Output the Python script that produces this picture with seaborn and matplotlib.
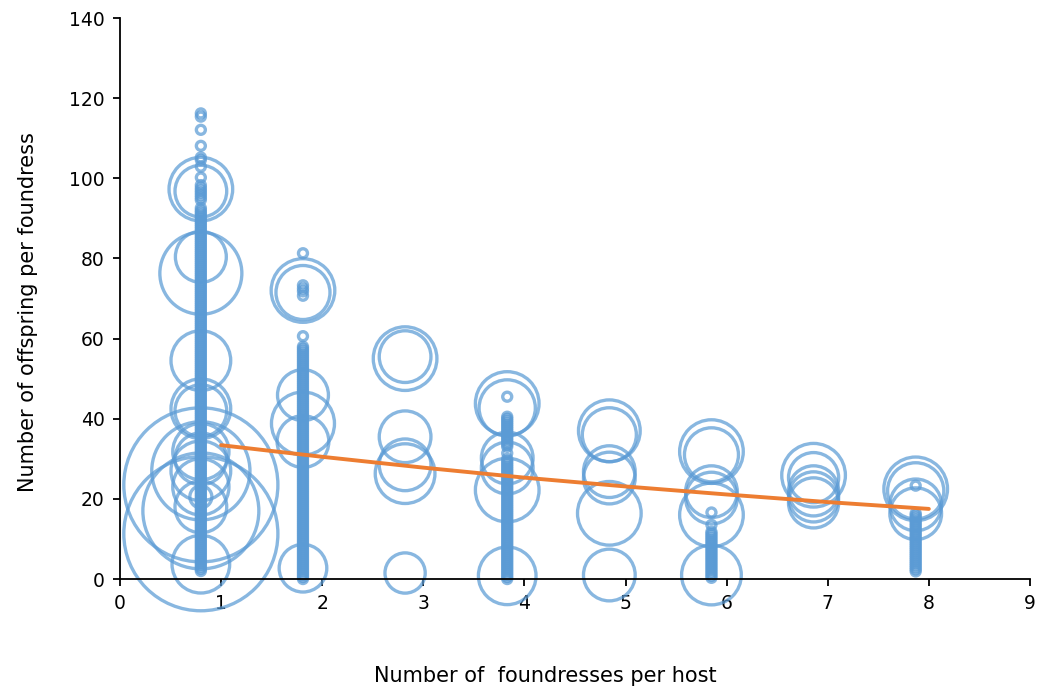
import numpy as np
import pandas as pd
import matplotlib
matplotlib.use("Agg")
import matplotlib.pyplot as plt
import seaborn as sns

# x position of each foundress group (bubbles sit a bit left of the integer)
group_x = [0.80, 1.81, 2.82, 3.83, 4.84, 5.85, 6.86, 7.87]

# single hosts (bubble value 1), offspring per foundress, per group
small_y_1 = [116.2, 115.4, 112.1, 108.1, 105.2, 104.6, 102.9, 100.2, 98.3, 97.6, 97.0, 96.4,
             95.8, 95.2, 94.6,
             92.6, 92.0, 91.5, 91.0, 90.5, 90.0, 89.5, 89.0, 88.5, 88.0, 87.5, 87.0, 86.5,
             86.0, 85.5, 85.0, 84.5, 84.0, 83.5, 83.0, 82.5, 82.0, 81.5, 81.0, 80.5, 80.0, 79.5,
             79.0, 78.5, 78.0, 77.5, 77.0, 76.5, 76.0, 75.5, 75.0, 74.5, 74.0, 73.5, 73.0, 72.5,
             72.0, 71.5, 71.0, 70.5, 70.0, 69.5, 69.0, 68.5, 68.0, 67.5, 67.0, 66.5, 66.0, 65.5,
             65.0, 64.5, 64.0, 63.5, 63.0, 62.5, 62.0, 61.5, 61.0, 60.5, 60.0, 59.5, 59.0, 58.5,
             58.0, 57.5, 57.0, 56.5, 56.0, 55.5, 55.0, 54.5, 54.0, 53.5, 53.0, 52.5, 52.0, 51.5,
             51.0, 50.5, 50.0, 49.5, 49.0, 48.5, 48.0, 47.5, 47.0, 46.5, 46.0, 45.5, 45.0, 44.5,
             44.0, 43.5, 43.0, 42.5, 42.0, 41.5, 41.0, 40.5, 40.0, 39.5, 39.0, 38.5, 38.0, 37.5,
             37.0, 36.5, 36.0, 35.5, 35.0, 34.5, 34.0, 33.5, 33.0, 32.5, 32.0, 31.5, 31.0, 30.5,
             30.0, 29.5, 29.0, 28.5, 28.0, 27.5, 27.0, 26.5, 26.0, 25.5, 25.0, 24.5, 24.0, 23.5,
             23.0, 22.5, 22.0, 21.5, 21.0, 20.5, 20.0, 19.5, 19.0, 18.5, 18.0, 17.5, 17.0, 16.5,
             16.0, 15.5, 15.0, 14.5, 14.0, 13.5, 13.0, 12.5, 12.0, 11.5, 11.0, 10.5, 10.0, 9.5,
             9.0, 8.5, 8.0, 7.5, 7.0, 6.5, 6.0, 5.5, 5.0, 4.5, 4.0, 3.5, 3.0, 2.5, 2.0]
small_y_2 = [81.3, 73.3, 72.5, 71.8, 70.7, 60.6,
             58.0, 57.5, 57.0, 56.5, 56.0, 55.5, 55.0, 54.5, 54.0, 53.5, 53.0, 52.5, 52.0, 51.5,
             51.0, 50.5, 50.0, 49.5, 49.0, 48.5, 48.0, 47.5, 47.0, 46.5, 46.0, 45.5, 45.0, 44.5,
             44.0, 43.5, 43.0, 42.5, 42.0, 41.5, 41.0, 40.5, 40.0, 39.5, 39.0, 38.5, 38.0, 37.5,
             37.0, 36.5, 36.0, 35.5, 35.0, 34.5, 34.0, 33.5, 33.0, 32.5, 32.0, 31.5, 31.0, 30.5,
             30.0, 29.5, 29.0, 28.5, 28.0, 27.5, 27.0, 26.5, 26.0, 25.5, 25.0, 24.5, 24.0, 23.5,
             23.0, 22.5, 22.0, 21.5, 21.0, 20.5, 20.0, 19.5, 19.0, 18.5, 18.0, 17.5, 17.0, 16.5,
             16.0, 15.5, 15.0, 14.5, 14.0, 13.5, 13.0, 12.5, 12.0, 11.5, 11.0, 10.5, 10.0, 9.5,
             9.0, 8.5, 8.0, 7.5, 7.0, 6.5, 6.0, 5.5, 5.0, 4.5, 4.0, 3.5, 3.0, 2.5, 2.0, 1.5,
             1.0, 0.5, 0.0]
small_y_4 = [45.5,
             40.5, 40.0, 39.5, 39.0, 38.5, 38.0, 37.5, 37.0, 36.5, 36.0, 35.5, 35.0, 34.5, 34.0,
             33.5, 33.0, 31.4, 30.0, 29.5, 29.0, 28.5, 28.0, 27.5, 27.0, 26.5, 26.0, 25.5, 25.0,
             24.5, 24.0, 23.5, 23.0, 22.5, 22.0, 21.5, 21.0, 20.5, 20.0, 19.5, 19.0, 18.5, 18.0,
             17.5, 17.0, 16.5, 16.0, 15.5, 15.0, 14.5, 14.0, 13.5, 13.0, 12.5, 12.0, 11.5, 11.0,
             10.5, 10.0, 9.5, 9.0, 8.5, 8.0, 7.5, 7.0, 6.5, 6.0, 5.5, 5.0, 4.5, 4.0, 3.5, 3.0,
             2.5, 2.0, 1.5, 1.0, 0.5, 0.0]
small_y_6 = [16.6, 13.5, 11.8, 11.3, 10.8, 10.3, 9.8, 9.3, 8.8, 8.3, 7.8, 7.3, 6.8, 6.3, 5.8,
             5.3, 4.8, 4.3, 3.8, 3.3, 2.8, 2.3, 1.8, 1.3, 0.8, 0.3]
small_y_8 = [23.3, 16.4, 15.9, 15.4, 14.9, 14.4, 13.9, 13.4, 12.9, 12.4, 11.9, 11.4, 10.9,
             10.4, 9.9, 9.4, 8.9, 8.4, 7.9, 7.4, 6.9, 6.4, 5.9, 5.4, 4.9, 4.4, 3.9, 3.4, 2.9,
             2.4, 1.9]

# larger bubbles: group index, offspring per foundress, bubble value
big_group = [1, 1, 1, 1, 1, 1, 1, 1, 1, 1, 1, 1, 1, 1, 1, 1, 1, 1,
             2, 2, 2, 2, 2, 2,
             3, 3, 3, 3, 3, 3,
             4, 4, 4, 4, 4, 4,
             5, 5, 5, 5, 5, 5,
             6, 6, 6, 6, 6, 6,
             7, 7, 7, 7, 7,
             8, 8, 8, 8]
big_y = [97.3, 96.8, 80.4, 76.3, 54.5, 42.5, 42.0, 31.8, 30.0, 27.0, 27.0, 23.5, 23.0, 20.5, 18.0, 17.0, 11.3, 3.7,
         72.0, 71.5, 45.9, 38.8, 34.3, 2.7,
         55.0, 55.5, 35.5, 28.5, 26.3, 1.5,
         43.8, 42.7, 30.2, 27.7, 22.2, 0.8,
         37.0, 36.0, 26.8, 25.2, 16.4, 1.0,
         31.8, 31.0, 21.8, 20.2, 16.0, 1.0,
         25.9, 25.3, 22.0, 20.5, 19.0,
         22.5, 22.0, 18.5, 16.3]
big_n = [50, 33, 32, 83, 44, 44, 33, 39, 33, 119, 44, 293, 39, 6, 33, 166, 293, 41,
         50, 36, 32, 49, 33, 28,
         50, 33, 33, 33, 44, 20,
         50, 39, 33, 33, 50, 41,
         47, 36, 33, 33, 50, 33,
         50, 36, 33, 33, 50, 44,
         50, 31, 31, 31, 31,
         50, 39, 33, 33]

# exponential trend line
trend_x = [1, 2, 3, 4, 5, 6, 7, 8]
trend_y = [33.4, 30.5, 27.8, 25.3, 23.1, 21.1, 19.2, 17.5]

rows = []
for g, ys in [(1, small_y_1), (2, small_y_2), (4, small_y_4), (6, small_y_6), (8, small_y_8)]:
    for y in ys:
        rows.append((group_x[g - 1], y, 1))
for g, y, n in zip(big_group, big_y, big_n):
    rows.append((group_x[g - 1], y, n))
df = pd.DataFrame(rows, columns=["foundresses", "offspring", "n"])

sns.set_style("ticks")
plt.rcParams["font.family"] = ["DejaVu Sans"]

fig = plt.figure(figsize=(10.45, 6.88), dpi=100)
ax = fig.add_axes([0.1148, 0.1584, 0.8708, 0.8154])

blue = "#5B9BD5"
nmax = max(big_n)
sns.scatterplot(data=df, x="foundresses", y="offspring", size="n",
                sizes=(0, 42 * nmax), size_norm=(0, nmax), legend=False,
                facecolor="none", edgecolor=blue, linewidth=2.4, alpha=0.72,
                clip_on=False, zorder=2, ax=ax)
sns.lineplot(x=trend_x, y=trend_y, color="#ED7D31", linewidth=2.8, zorder=3, ax=ax)

ax.set_xlim(0, 9)
ax.set_ylim(0, 140)
ax.set_xticks(range(0, 10))
ax.set_yticks(range(0, 141, 20))
sns.despine(ax=ax)
for s in ["left", "bottom"]:
    ax.spines[s].set_linewidth(1.3)
    ax.spines[s].set_color("black")
ax.tick_params(axis="both", direction="out", length=5, width=1.3, labelsize=13.5,
               colors="black", pad=6)
ax.set_xlabel("Number of  foundresses per host", fontsize=15, color="black")
ax.set_ylabel("Number of offspring per foundress", fontsize=15, color="black")
ax.xaxis.set_label_coords(0.467, -0.155)
ax.yaxis.set_label_coords(-0.090, 0.476)

fig.savefig("out.png", dpi=100)
